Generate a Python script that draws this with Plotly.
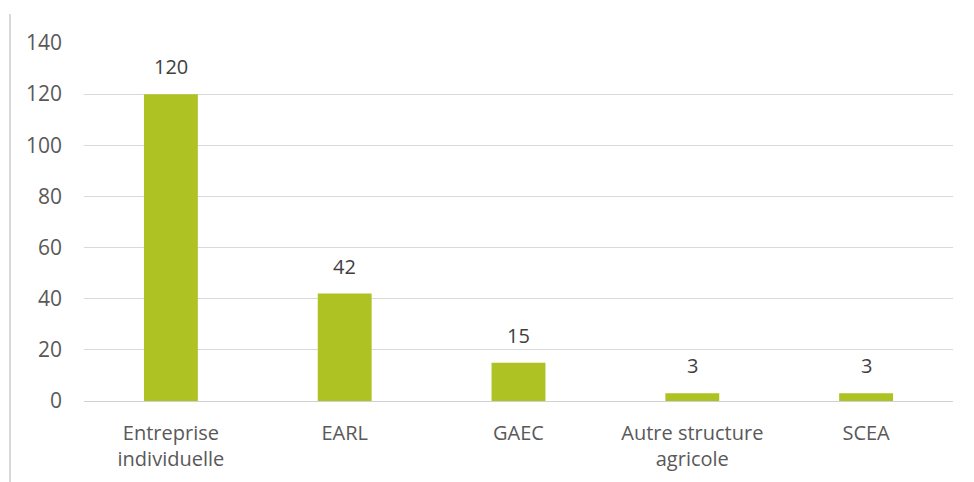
import plotly.graph_objects as go

categories = ["Entreprise<br>individuelle", "EARL", "GAEC", "Autre structure<br>agricole", "SCEA"]
values = [120, 42, 15, 3, 3]
tick_vals = [0, 20, 40, 60, 80, 100, 120, 140]

FONT = "Open Sans, Liberation Sans, sans-serif"
W, H = 974, 482
OFF = 8  # default body margin of the html page
ml, mr, mt, mb = 84 - OFF, 21 + OFF, 43 - OFF, 81 + OFF
plot_w = W - ml - mr
plot_h = H - mt - mb

fig = go.Figure(go.Bar(
    x=categories, y=values,
    marker=dict(color="#aec224", line=dict(width=0)),
    hoverinfo="x+y",
))

for c, v in zip(categories, values):
    fig.add_annotation(x=c, y=v, text=str(v), showarrow=False, yanchor="bottom",
                       yshift=12, font=dict(family=FONT, size=20, color="#404040"))

fig.update_layout(
    width=W, height=H,
    margin=dict(l=ml, r=mr, t=mt, b=mb),
    paper_bgcolor="white", plot_bgcolor="white",
    bargap=0.69,
    showlegend=False,
    font=dict(family=FONT, size=20, color="#595959"),
    xaxis=dict(showgrid=False, showline=False, ticks="", ticklabelstandoff=18,
               tickfont=dict(family=FONT, size=20, color="#595959")),
    yaxis=dict(range=[0, 140], tickvals=tick_vals, showgrid=True, gridcolor="#d9d9d9",
               gridwidth=1, zeroline=True, zerolinecolor="#d0d0d0", zerolinewidth=1,
               showline=False, ticks="", ticklabelstandoff=21,
               tickfont=dict(family=FONT, size=21, color="#595959")),
    shapes=[dict(type="line", xref="paper", yref="paper",
                 x0=(10 - OFF - ml) / plot_w, x1=(10 - OFF - ml) / plot_w,
                 y0=(H - mb - (14 - OFF)) / plot_h, y1=-mb / plot_h,
                 line=dict(color="#d9d9d9", width=2))],
)

fig.write_html("out.html")
